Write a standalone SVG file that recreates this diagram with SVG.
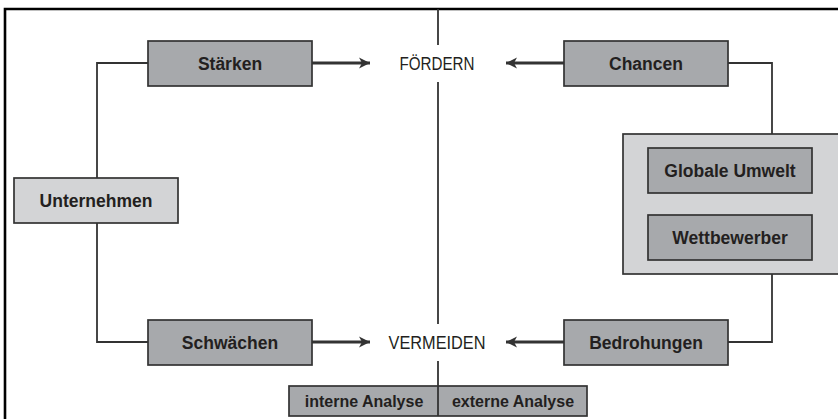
<svg xmlns="http://www.w3.org/2000/svg" width="838" height="419" viewBox="0 0 838 419">
<defs>
<style>
.box{fill:#a7a9ac;stroke:#333;stroke-width:1.7}
.lbox{fill:#d3d4d6;stroke:#333;stroke-width:1.7}
.lbl{font-family:"Liberation Sans",Arial,sans-serif;font-weight:bold;font-size:17.5px;fill:#231f20;text-anchor:middle}
.sm{font-family:"Liberation Sans",Arial,sans-serif;font-weight:bold;font-size:16px;fill:#231f20;text-anchor:middle}
.cap{font-family:"Liberation Sans",Arial,sans-serif;font-size:18px;fill:#231f20;text-anchor:middle}
.ln{fill:none;stroke:#333;stroke-width:1.8}
.arr{fill:none;stroke:#333;stroke-width:3}
.frame{fill:none;stroke:#000;stroke-width:2.6}
</style>
<marker id="ah" markerUnits="userSpaceOnUse" markerWidth="14" markerHeight="14" viewBox="-12 -6 14 12" refX="0" refY="0" orient="auto">
<path d="M-11,-5.5 L0,0 L-11,5.5 L-8,0 z" fill="#333"/>
</marker>
</defs>
<rect width="838" height="419" fill="#fff"/>
<g id="frame">
<path class="frame" d="M5,419 V9 H838"/>
</g>
<g id="connectors">
<path class="ln" d="M438,9 V45 M438,82 V324 M438,361 V416"/>
<path class="ln" d="M148,63 H97 V178 M97,223 V342 H148"/>
<path class="ln" d="M728,63 H772 V134 M772,274 V342 H728"/>
<path class="arr" d="M312,63 H370" marker-end="url(#ah)"/>
<path class="arr" d="M564,63 H506" marker-end="url(#ah)"/>
<path class="arr" d="M312,342 H370" marker-end="url(#ah)"/>
<path class="arr" d="M564,342 H506" marker-end="url(#ah)"/>
</g>
<g id="foerdern"><text class="cap" x="437" y="69.5" textLength="75" lengthAdjust="spacingAndGlyphs">FÖRDERN</text></g>
<g id="vermeiden"><text class="cap" x="437" y="348.5" textLength="97" lengthAdjust="spacingAndGlyphs">VERMEIDEN</text></g>
<g id="staerken"><rect class="box" x="148" y="41" width="164" height="45"/><text class="lbl" x="230" y="69.5">Stärken</text></g>
<g id="chancen"><rect class="box" x="564" y="41" width="164" height="45"/><text class="lbl" x="646" y="69.5">Chancen</text></g>
<g id="unternehmen"><rect class="lbox" x="14" y="178" width="164" height="45"/><text class="lbl" x="96" y="206.5">Unternehmen</text></g>
<g id="umwelt-gruppe"><rect class="lbox" x="623" y="134" width="230" height="140"/></g>
<g id="globale-umwelt"><rect class="box" x="648" y="148" width="164" height="45"/><text class="lbl" x="730" y="176.5">Globale Umwelt</text></g>
<g id="wettbewerber"><rect class="box" x="648" y="215" width="164" height="45"/><text class="lbl" x="730" y="243.5">Wettbewerber</text></g>
<g id="schwaechen"><rect class="box" x="148" y="320" width="164" height="45"/><text class="lbl" x="230" y="348.5">Schwächen</text></g>
<g id="bedrohungen"><rect class="box" x="564" y="320" width="164" height="45"/><text class="lbl" x="646" y="348.5">Bedrohungen</text></g>
<g id="analyse">
<rect class="box" x="289" y="386" width="298" height="30"/>
<path class="ln" d="M438,386 V416"/>
<text class="sm" x="364" y="407">interne Analyse</text>
<text class="sm" x="513" y="407">externe Analyse</text>
</g>
</svg>
